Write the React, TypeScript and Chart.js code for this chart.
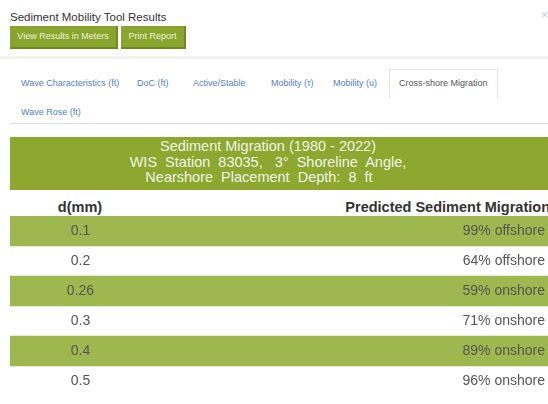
import React, { useEffect, useRef } from "react";
import { Chart, registerables } from "chart.js";

Chart.register(...registerables);

// ---- data ----
const dValues = ["0.1", "0.2", "0.26", "0.3", "0.4", "0.5"];
const migrationPercent = [99, 64, 59, 71, 89, 96];
const migrationDirection = ["offshore", "offshore", "onshore", "onshore", "onshore", "onshore"];
const rowBand = [1, 1, 1, 1, 1, 1]; // every row spans the full table width
const columnHeaders = ["d(mm)", "Predicted Sediment Migration"];
const titleLines = [
  "Sediment Migration (1980 - 2022)",
  "WIS  Station  83035,   3°  Shoreline  Angle,",
  "Nearshore  Placement  Depth:  8  ft",
];
const tabsRow1 = ["Wave Characteristics (ft)", "DoC (ft)", "Active/Stable", "Mobility (τ)", "Mobility (u)"];
const activeTab = "Cross-shore Migration";
const tabsRow2 = ["Wave Rose (ft)"];

const FONT = '"Liberation Sans", Arial, sans-serif';
const ROW_GREEN = "#9fb74f";
const TITLE_GREEN = "#8ea82f";
const BTN_GREEN = "#8aa52d";

export default function App() {
  const canvasRef = useRef<HTMLCanvasElement | null>(null);

  useEffect(() => {
    document.body.style.margin = "0";
    document.body.style.overflow = "hidden";
    const canvas = canvasRef.current;
    if (!canvas) return;

    const textPlugin = {
      id: "cellText",
      afterDatasetsDraw(chart: any) {
        const { ctx, scales } = chart;
        const x = scales.x;
        const y = scales.y;
        ctx.save();
        ctx.font = `14px ${FONT}`;
        ctx.fillStyle = "#555555";
        ctx.textBaseline = "middle";
        dValues.forEach((d, i) => {
          const py = y.getPixelForValue(i);
          ctx.textAlign = "center";
          ctx.fillText(d, x.getPixelForValue(0.131), py);
          ctx.textAlign = "right";
          ctx.fillText(`${migrationPercent[i]}% ${migrationDirection[i]}`, x.getPixelForValue(1) - 3, py);
        });
        ctx.restore();
      },
    };

    const chart = new Chart(canvas, {
      type: "bar",
      data: {
        labels: dValues,
        datasets: [
          {
            data: rowBand,
            backgroundColor: (c: any) => (c.dataIndex % 2 === 0 ? ROW_GREEN : "rgba(0,0,0,0)"),
            borderWidth: 0,
            barPercentage: 1,
            categoryPercentage: 1,
          },
        ],
      },
      options: {
        indexAxis: "y",
        animation: false,
        responsive: false,
        maintainAspectRatio: false,
        layout: { padding: 0 },
        scales: {
          x: { display: false, min: 0, max: 1 },
          y: { display: false },
        },
        plugins: {
          legend: { display: false },
          tooltip: { enabled: false },
          title: { display: false },
        },
      },
      plugins: [textPlugin],
    });
    return () => chart.destroy();
  }, []);

  const abs = (l: number, t: number, extra: React.CSSProperties = {}): React.CSSProperties => ({
    position: "absolute",
    left: l,
    top: t,
    whiteSpace: "pre",
    ...extra,
  });

  const tabLefts = [21, 137, 193, 271, 333];

  return (
    <div
      style={{
        position: "relative",
        width: 548,
        height: 404,
        overflow: "hidden",
        background: "#ffffff",
        fontFamily: FONT,
      }}
    >
      <div style={abs(10, 10, { fontSize: 11.5, color: "#333", lineHeight: "14px" })}>
        Sediment Mobility Tool Results
      </div>
      <div style={abs(541, 8, { fontSize: 12, color: "#cccccc", lineHeight: "14px" })}>×</div>

      <div
        style={abs(10, 26, {
          width: 106,
          height: 21,
          background: BTN_GREEN,
          borderRight: "2px solid #6f8a1f",
          borderBottom: "2px solid #6f8a1f",
          color: "#eef3dc",
          fontSize: 9,
          lineHeight: "21px",
          textAlign: "center",
        })}
      >
        View Results in Meters
      </div>
      <div
        style={abs(121, 26, {
          width: 63,
          height: 21,
          background: BTN_GREEN,
          borderRight: "2px solid #6f8a1f",
          borderBottom: "2px solid #6f8a1f",
          color: "#eef3dc",
          fontSize: 9,
          lineHeight: "21px",
          textAlign: "center",
        })}
      >
        Print Report
      </div>

      <div style={abs(0, 56, { width: 548, height: 3, background: "#f2f2f2" })} />

      {tabsRow1.map((t, i) => (
        <div key={t} style={abs(tabLefts[i], 77, { fontSize: 9, color: "#4f7fc0", lineHeight: "12px" })}>
          {t}
        </div>
      ))}
      <div
        style={abs(389, 69, {
          width: 107,
          height: 29,
          border: "1px solid #e4e4e4",
          borderBottom: "none",
          background: "#fff",
        })}
      />
      <div style={abs(399, 77, { fontSize: 9, color: "#555", lineHeight: "12px" })}>{activeTab}</div>
      {tabsRow2.map((t) => (
        <div key={t} style={abs(21, 106, { fontSize: 9, color: "#4f7fc0", lineHeight: "12px" })}>
          {t}
        </div>
      ))}
      <div style={abs(10, 123, { width: 538, height: 1, background: "#dddddd" })} />

      <div
        style={abs(10, 137, {
          width: 538,
          height: 53,
          background: TITLE_GREEN,
        })}
      />
      {titleLines.map((line, i) => (
        <div
          key={i}
          style={abs(10, 139 + i * 15.5, {
            width: 538,
            boxSizing: "border-box",
            paddingRight: i === 2 ? 40 : 22,
            textAlign: "center",
            fontSize: 14.5,
            lineHeight: "15.5px",
            color: "#f1f3ea",
          })}
        >
          {line}
        </div>
      ))}

      <div
        style={abs(10, 198, {
          width: 140,
          textAlign: "center",
          fontSize: 14.5,
          fontWeight: "bold",
          color: "#333",
          lineHeight: "18px",
        })}
      >
        {columnHeaders[0]}
      </div>
      <div
        style={abs(250, 198, {
          width: 300,
          textAlign: "right",
          fontSize: 14.5,
          fontWeight: "bold",
          color: "#333",
          lineHeight: "18px",
        })}
      >
        {columnHeaders[1]}
      </div>

      <canvas
        ref={canvasRef}
        width={538}
        height={180}
        style={{ position: "absolute", left: 10, top: 216, width: 538, height: 180 }}
      />
    </div>
  );
}
